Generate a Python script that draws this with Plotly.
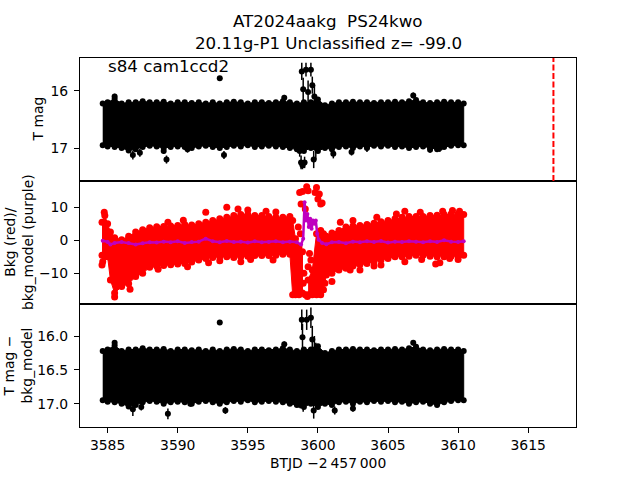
import plotly.graph_objects as go
from plotly.subplots import make_subplots

# ---------------- data ----------------
title_line1 = "AT2024aakg  PS24kwo"
title_line2 = "20.11g-P1 Unclassified z= -99.0"
sector_label = "s84 cam1ccd2"
discovery_btjd = 3616.8

x_ticks = [3585, 3590, 3595, 3600, 3605, 3610, 3615]
p1_ticks = [16, 17]
p2_ticks = [-10, 0, 10]
p3_ticks = [16.0, 16.5, 17.0]

# dense T-mag band: upper / lower envelope of the error-bar cloud
band_t = [3584.65, 3585.0, 3585.5, 3586.0, 3586.5, 3587.0, 3587.5, 3588.0, 3588.5, 3589.0,
          3589.5, 3590.0, 3590.5, 3591.0, 3591.5, 3592.0, 3592.5, 3593.0, 3593.5, 3594.0,
          3594.5, 3595.0, 3595.5, 3596.0, 3596.5, 3597.0, 3597.5, 3598.0, 3598.5, 3599.0,
          3599.5, 3600.0, 3600.5, 3601.0, 3601.5, 3602.0, 3602.5, 3603.0, 3603.5, 3604.0,
          3604.5, 3605.0, 3605.5, 3606.0, 3606.5, 3607.0, 3607.5, 3608.0, 3608.5, 3609.0,
          3609.5, 3610.0, 3610.4]
band_top = [16.22, 16.2, 16.14, 16.22, 16.2, 16.2, 16.18, 16.2, 16.2, 16.19,
            16.22, 16.2, 16.2, 16.21, 16.2, 16.22, 16.2, 16.22, 16.2, 16.19,
            16.2, 16.22, 16.2, 16.2, 16.21, 16.2, 16.18, 16.2, 16.22, 16.2,
            16.2, 16.15, 16.25, 16.22, 16.2, 16.2, 16.19, 16.2, 16.2, 16.21,
            16.2, 16.2, 16.19, 16.2, 16.18, 16.16, 16.2, 16.21, 16.2, 16.19,
            16.2, 16.2, 16.22]
band_bot = [16.95, 16.97, 16.98, 17.0, 17.04, 17.02, 16.98, 16.96, 16.97, 17.0,
            16.98, 16.97, 16.98, 17.0, 16.97, 16.96, 16.98, 17.0, 16.98, 16.96,
            16.97, 16.95, 16.98, 16.97, 16.96, 16.97, 16.98, 17.0, 17.02, 17.05,
            17.0, 17.05, 17.0, 17.02, 16.98, 16.97, 17.0, 16.97, 16.98, 16.96,
            16.97, 16.96, 16.98, 16.97, 17.0, 16.98, 16.97, 17.0, 17.02, 16.98,
            16.96, 16.95, 16.95]

# individual T-mag points (panel 1)
p1_pt_t = [3593.0, 3597.6, 3585.5, 3606.8, 3586.8, 3587.3, 3589.2, 3589.0, 3590.7, 3593.3,
           3601.1, 3602.4, 3603.5, 3608.0, 3608.7,
           3598.85, 3598.95, 3599.15, 3599.3, 3599.5, 3599.6, 3599.75, 3598.7, 3598.8, 3598.9,
           3599.05, 3599.7, 3599.85, 3599.95]
p1_pt_m = [15.78, 16.12, 16.1, 16.08, 17.12, 17.08, 17.2, 17.05, 17.02, 17.12,
           17.1, 17.07, 17.0, 17.03, 17.0,
           15.66, 15.97, 15.63, 16.02, 15.63, 15.9, 16.1, 17.05, 17.25, 17.3,
           17.25, 17.2, 17.0, 16.5]
p1_pt_e = [0.03, 0.05, 0.05, 0.05, 0.08, 0.07, 0.07, 0.05, 0.06, 0.07,
           0.08, 0.06, 0.07, 0.05, 0.07,
           0.15, 0.2, 0.12, 0.2, 0.12, 0.15, 0.2, 0.1, 0.12, 0.07,
           0.1, 0.15, 0.2, 0.35]

# individual T mag - bkg_model points (panel 3)
p3_pt_t = [3593.0, 3597.6, 3585.5, 3606.8, 3586.8, 3587.4, 3589.3, 3590.9, 3593.4, 3601.2,
           3602.5, 3608.0,
           3598.85, 3598.9, 3599.2, 3599.5, 3599.6, 3599.75, 3599.85, 3598.75, 3598.95, 3599.05,
           3599.7, 3599.55]
p3_pt_m = [15.80, 16.12, 16.1, 16.1, 17.08, 17.05, 17.15, 17.0, 17.1, 17.1,
           17.07, 16.98,
           15.76, 16.02, 15.76, 15.73, 16.05, 16.2, 16.4, 17.02, 17.02, 16.9,
           17.1, 16.5]
p3_pt_e = [0.03, 0.04, 0.04, 0.04, 0.1, 0.05, 0.08, 0.04, 0.05, 0.06,
           0.05, 0.04,
           0.15, 0.2, 0.15, 0.15, 0.2, 0.2, 0.3, 0.05, 0.1, 0.15,
           0.12, 0.3]

# background (red) cloud, before the flare
bkgA_t = [3584.6, 3584.8, 3585.0, 3585.2, 3585.5, 3586.0, 3586.5, 3587.0, 3587.5, 3588.0,
          3588.5, 3589.0, 3589.5, 3590.0, 3590.5, 3591.0, 3591.5, 3592.0, 3592.5, 3593.0,
          3593.5, 3594.0, 3594.5, 3595.0, 3595.5, 3596.0, 3596.5, 3597.0, 3597.5, 3598.0,
          3598.2, 3598.4, 3598.65, 3598.9]
bkgA_hi = [5.5, 7.5, 5.0, 2.5, 0.8, 0.2, 1.2, 2.5, 3.2, 3.8,
           4.1, 4.2, 4.3, 4.5, 4.8, 4.6, 5.0, 5.5, 6.0, 6.5,
           7.0, 7.5, 7.8, 7.8, 7.5, 7.5, 7.2, 7.0, 7.0, 7.2,
           6.0, 0.5, -2.0, -3.5]
bkgA_lo = [-4.5, -5.0, -5.0, -12.0, -16.0, -14.0, -13.2, -11.0, -10.0, -8.2,
           -7.8, -7.6, -7.4, -7.2, -7.0, -6.6, -6.0, -5.5, -5.2, -5.0,
           -5.0, -5.2, -5.0, -4.8, -4.6, -4.6, -4.6, -4.5, -4.2, -4.2,
           -16.5, -16.5, -16.5, -16.0]
# background (red) cloud, flare tail and after
bkgB_t = [3599.3, 3599.6, 3599.9, 3600.2, 3600.4, 3600.6, 3601.0, 3601.5, 3602.0, 3602.5,
          3603.0, 3603.5, 3604.0, 3604.5, 3605.0, 3605.5, 3606.0, 3606.5, 3607.0, 3607.5,
          3608.0, 3608.5, 3609.0, 3609.5, 3610.0, 3610.4]
bkgB_hi = [-12.0, -9.0, 2.0, 3.0, 2.0, 1.2, 2.2, 3.0, 4.0, 4.3,
           4.5, 4.8, 5.2, 5.6, 6.0, 6.5, 7.0, 7.2, 7.2, 7.2,
           7.5, 7.6, 7.8, 8.0, 8.0, 7.8]
bkgB_lo = [-16.5, -16.5, -16.5, -16.5, -15.0, -10.5, -10.0, -9.0, -8.5, -7.8,
           -7.3, -7.0, -6.5, -6.0, -5.5, -5.0, -5.0, -4.8, -4.5, -4.5,
           -4.8, -5.0, -5.0, -4.8, -4.8, -4.5]
# scattered background points
bkg_pt_t = [3584.6, 3584.65, 3584.76, 3585.5, 3586.6, 3592.0, 3593.5, 3594.3, 3595.0, 3596.3,
            3597.0, 3589.3, 3590.4, 3601.6, 3602.5, 3604.2, 3605.6, 3606.2, 3607.3, 3608.9,
            3609.6, 3610.1, 3588.6, 3590.7, 3592.2, 3593.0, 3594.5, 3595.2, 3596.8, 3602.3,
            3603.0, 3604.0, 3604.5, 3606.2, 3607.4, 3608.4, 3608.7, 3609.4, 3610.0, 3598.7,
            3598.8, 3598.9, 3599.1, 3599.2, 3599.3, 3599.8, 3599.9, 3600.0, 3600.1, 3600.2,
            3600.3, 3598.6, 3598.75, 3599.4, 3599.5, 3599.3, 3599.0, 3598.95, 3599.1, 3599.25,
            3600.5, 3601.0]
bkg_pt_v = [-7.5, -6.5, 8.5, -17.2, -14.8, 8.5, 10.0, 9.5, 9.2, 8.8,
            8.6, 5.5, 6.1, 5.5, 6.0, 7.0, 8.0, 8.8, 8.5, 8.8,
            9.0, 8.8, -8.8, -8.0, -6.8, -6.2, -6.5, -5.8, -6.0, -9.0,
            -9.0, -7.8, -7.5, -6.5, -5.8, -7.2, -6.8, -5.5, -5.8, 14.5,
            11.0, 14.8, 9.5, 16.2, 15.0, 14.5, 16.0, 12.5, 14.0, 11.0,
            11.3, 4.0, 2.0, -4.0, -6.0, -8.0, -10.0, -13.0, -16.5, -17.0,
            -13.0, -12.5]

# background model (purple)
model_t = [3584.65, 3585.0, 3585.2, 3585.5, 3586.0, 3586.5, 3587.0, 3587.5, 3588.0, 3588.5,
           3589.0, 3589.5, 3590.0, 3590.5, 3591.0, 3591.5, 3592.0, 3592.5, 3593.0, 3593.5,
           3594.0, 3594.5, 3595.0, 3595.5, 3596.0, 3596.5, 3597.0, 3597.5, 3598.0, 3598.5,
           3598.8, 3598.95, 3599.05, 3599.15, 3599.25, 3599.35, 3599.45, 3599.55, 3599.65, 3599.75,
           3599.85, 3599.95, 3600.05, 3600.3, 3600.6, 3601.0, 3601.5, 3602.0, 3602.5, 3603.0,
           3603.5, 3604.0, 3604.5, 3605.0, 3605.5, 3606.0, 3606.5, 3607.0, 3607.5, 3608.0,
           3608.5, 3609.0, 3609.5, 3610.0, 3610.4]
model_v = [-0.1, -0.5, -1.3, -0.8, -0.5, -0.8, -1.3, -0.9, -0.6, -0.7,
           -0.4, -0.6, -0.3, -0.8, -0.5, -0.4, 0.5, -0.3, -0.6, -0.2,
           -0.5, -0.4, -0.7, -0.3, -0.6, -0.5, -0.3, -0.6, -0.4, -0.6,
           -1.3, 0.5, 11.5, 6.0, 8.0, 4.0, 6.5, 3.5, 6.0, 5.0,
           6.0, 2.0, 0.2, -0.8, -1.2, -0.6, -0.5, -0.9, -0.4, -0.6,
           -0.3, -0.5, -0.2, -0.7, -0.4, -0.5, -0.3, -0.4, -0.6, -0.3,
           -0.5, 0.0, -0.4, -0.5, -0.3]

# ---------------- figure ----------------
FONT = "DejaVu Sans"
RED = "#ff0000"
PURPLE = "#bf00bf"

fig = make_subplots(rows=3, cols=1, shared_xaxes=True, vertical_spacing=0)


def band_trace(t, hi, lo, color, msize):
    return go.Scatter(x=t + t[::-1], y=hi + lo[::-1], fill="toself", fillcolor=color,
                      mode="lines+markers", line=dict(color=color, width=1),
                      marker=dict(color=color, size=msize), hoverinfo="skip")


def err_points(t, m, e):
    return go.Scatter(x=t, y=m, mode="markers",
                      marker=dict(color="black", size=6),
                      error_y=dict(type="data", array=e, color="black", thickness=1.5, width=0))


# panel 1
fig.add_trace(band_trace(band_t, band_top, band_bot, "black", 6), row=1, col=1)
fig.add_trace(err_points(p1_pt_t, p1_pt_m, p1_pt_e), row=1, col=1)
# panel 2
fig.add_trace(band_trace(bkgA_t, bkgA_hi, bkgA_lo, RED, 7), row=2, col=1)
fig.add_trace(band_trace(bkgB_t, bkgB_hi, bkgB_lo, RED, 7), row=2, col=1)
fig.add_trace(go.Scatter(x=bkg_pt_t, y=bkg_pt_v, mode="markers",
                         marker=dict(color=RED, size=7)), row=2, col=1)
fig.add_trace(go.Scatter(x=model_t, y=model_v, mode="lines+markers",
                         line=dict(color=PURPLE, width=2.5),
                         marker=dict(color=PURPLE, size=4)), row=2, col=1)
# panel 3
fig.add_trace(band_trace(band_t, band_top, band_bot, "black", 6), row=3, col=1)
fig.add_trace(err_points(p3_pt_t, p3_pt_m, p3_pt_e), row=3, col=1)

# discovery epoch marker
fig.add_shape(type="line", x0=discovery_btjd, x1=discovery_btjd, xref="x", yref="y domain",
              y0=0, y1=1, line=dict(color=RED, width=2, dash="6px,2.5px"))

axis_common = dict(showline=True, linecolor="black", linewidth=1, mirror=True,
                   showgrid=False, zeroline=False, ticks="outside", ticklen=5,
                   tickwidth=1, tickcolor="black",
                   tickfont=dict(family=FONT, size=13.9, color="black"))

xr = [3583.03, 3618.41]
for i in (1, 2, 3):
    xa = dict(axis_common, range=xr, tickvals=x_ticks)
    if i < 3:
        xa.update(ticks="", showticklabels=False)
    fig.update_xaxes(xa, row=i, col=1)

fig.update_yaxes(dict(axis_common, range=[17.575, 15.425], tickvals=p1_ticks), row=1, col=1)
fig.update_yaxes(dict(axis_common, range=[-19.3, 17.97], tickvals=p2_ticks,
                      ticktext=["\u221210", "0", "10"]), row=2, col=1)
fig.update_yaxes(dict(axis_common, range=[17.344, 15.527], tickvals=p3_ticks,
                      ticktext=["16.0", "16.5", "17.0"]), row=3, col=1)
for i in (1, 2, 3):
    fig.update_yaxes(ticklabelstandoff=3, row=i, col=1)

H_PLOT = 480 - 57.6 - 52.8
W_PLOT = 640 - 80 - 64


def py(px_from_top):
    return (480 - 52.8 - px_from_top) / H_PLOT


def px(px_from_left):
    return (px_from_left - 80) / W_PLOT


annos = [
    dict(text=title_line1, x=0.5, y=py(21), size=16.7, angle=0),
    dict(text=title_line2, x=0.5, y=py(43), size=16.7, angle=0),
    dict(text="T mag", x=px(38), y=5 / 6, size=13.9, angle=-90),
    dict(text="Bkg (red)/<br>bkg_model (purple)", x=px(18.5), y=0.5, size=13.9, angle=-90),
    dict(text="T mag \u2212<br>bkg_model", x=px(17), y=1 / 6, size=13.9, angle=-90),
    dict(text="BTJD \u22122\u2009457\u2009000", x=0.5, y=py(463), size=13.9, angle=0),
]
for a in annos:
    fig.add_annotation(text=a["text"], x=a["x"], y=a["y"], xref="paper", yref="paper",
                       xanchor="center", yanchor="middle", showarrow=False,
                       textangle=a["angle"],
                       font=dict(family=FONT, size=a["size"], color="black"))
fig.add_annotation(text=sector_label, x=px(106), y=py(66), xref="paper", yref="paper",
                   xanchor="left", yanchor="middle", showarrow=False,
                   font=dict(family=FONT, size=16.7, color="black"))

fig.update_layout(width=640, height=480, showlegend=False,
                  margin=dict(l=80, r=64, t=57.6, b=52.8, pad=0),
                  paper_bgcolor="white", plot_bgcolor="white",
                  font=dict(family=FONT, color="black"))

fig.write_html("out.html", config={"displayModeBar": False},
               post_script="document.body.style.margin='0';document.body.style.padding='0';")
